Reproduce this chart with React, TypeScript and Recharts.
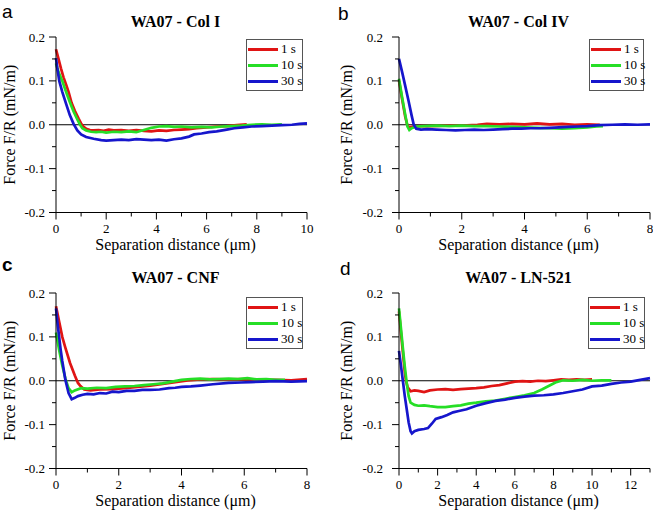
import { LineChart, Line, XAxis, YAxis, ReferenceLine, Legend } from "recharts";

const SERIF = "'Liberation Serif', 'Times New Roman', serif";
const SANS = "'Liberation Sans', Arial, sans-serif";
const COLORS = ["#e01414", "#26de26", "#1616cc"];
const SERIES = ["1 s", "10 s", "30 s"];

// y axis, shared by all four panels
const Y_TICKS = [-0.2, -0.15, -0.1, -0.05, 0, 0.05, 0.1, 0.15, 0.2];
const Y_MAJOR = [0.2, 0.1, 0, -0.1, -0.2];
const Y_LABELS = ["0.2", "0.1", "0.0", "-0.1", "-0.2"];

const X_TICKS_10 = [0, 1, 2, 3, 4, 5, 6, 7, 8, 9, 10];
const X_MAJOR_10 = [0, 2, 4, 6, 8, 10];
const X_TICKS_8 = [0, 1, 2, 3, 4, 5, 6, 7, 8];
const X_MAJOR_8 = [0, 2, 4, 6, 8];
const X_TICKS_13 = [0, 1, 2, 3, 4, 5, 6, 7, 8, 9, 10, 11, 12, 13];
const X_MAJOR_13 = [0, 2, 4, 6, 8, 10, 12];

// a - Col I
const COL1_1S = [[0,0.172],[0.1,0.15],[0.2,0.128],[0.3,0.108],[0.4,0.092],[0.5,0.075],[0.62,0.05],[0.75,0.032],[0.9,0.014],[1.0,0.003],[1.1,-0.005],[1.2,-0.009],[1.35,-0.012],[1.5,-0.013],[1.7,-0.012],[1.9,-0.014],[2.1,-0.011],[2.3,-0.013],[2.6,-0.012],[2.9,-0.014],[3.2,-0.012],[3.5,-0.014],[3.8,-0.015],[4.1,-0.013],[4.4,-0.014],[4.7,-0.012],[5.0,-0.011],[5.3,-0.01],[5.6,-0.008],[6.0,-0.006],[6.4,-0.004],[6.8,-0.003],[7.2,-0.001],[7.6,0.001]];
const COL1_10S = [[0,0.14],[0.1,0.12],[0.25,0.1],[0.4,0.075],[0.55,0.052],[0.7,0.03],[0.85,0.012],[0.96,0.0],[1.05,-0.008],[1.2,-0.013],[1.4,-0.016],[1.6,-0.017],[1.8,-0.016],[2.0,-0.018],[2.3,-0.016],[2.6,-0.017],[2.9,-0.015],[3.2,-0.017],[3.5,-0.012],[3.8,-0.007],[4.1,-0.004],[4.4,-0.003],[4.7,-0.005],[5.0,-0.004],[5.4,-0.006],[5.8,-0.005],[6.2,-0.006],[6.6,-0.004],[7.0,-0.003],[7.4,-0.002],[7.8,0.0],[8.2,0.001],[8.6,0.0],[9.0,0.001]];
const COL1_30S = [[0,0.152],[0.05,0.13],[0.13,0.1],[0.25,0.075],[0.4,0.048],[0.55,0.022],[0.7,0.002],[0.85,-0.013],[1.0,-0.022],[1.2,-0.028],[1.5,-0.032],[1.8,-0.035],[2.0,-0.036],[2.3,-0.035],[2.6,-0.034],[2.9,-0.035],[3.2,-0.033],[3.5,-0.034],[3.8,-0.035],[4.1,-0.034],[4.4,-0.036],[4.7,-0.033],[5.0,-0.031],[5.3,-0.027],[5.5,-0.022],[5.8,-0.02],[6.1,-0.017],[6.4,-0.015],[6.8,-0.011],[7.1,-0.008],[7.45,-0.006],[7.8,-0.004],[8.2,-0.003],[8.6,-0.002],[9.0,-0.001],[9.4,0.0],[9.7,0.002],[10,0.003]];

// b - Col IV
const COL4_1S = [[0,0.1],[0.1,0.058],[0.2,0.018],[0.27,-0.002],[0.33,-0.006],[0.45,-0.004],[0.7,-0.003],[1.0,-0.003],[1.5,-0.002],[2.0,-0.002],[2.5,0.0],[2.8,0.002],[3.2,0.001],[3.6,0.002],[4.0,0.001],[4.4,0.003],[4.8,0.001],[5.2,0.002],[5.6,0.0],[6.0,0.001],[6.4,0.0]];
const COL4_10S = [[0,0.105],[0.1,0.062],[0.2,0.022],[0.27,-0.004],[0.33,-0.012],[0.4,-0.008],[0.55,-0.004],[0.8,-0.003],[1.2,-0.002],[1.6,-0.003],[2.0,-0.002],[2.4,-0.003],[2.8,-0.003],[3.2,-0.004],[3.6,-0.005],[4.0,-0.006],[4.4,-0.007],[4.8,-0.008],[5.2,-0.009],[5.6,-0.008],[6.0,-0.006],[6.3,-0.004],[6.5,-0.003]];
const COL4_30S = [[0,0.15],[0.1,0.12],[0.2,0.088],[0.3,0.056],[0.4,0.022],[0.47,0.0],[0.55,-0.009],[0.7,-0.011],[0.9,-0.01],[1.2,-0.011],[1.5,-0.012],[1.8,-0.013],[2.1,-0.012],[2.4,-0.011],[2.7,-0.012],[3.0,-0.011],[3.3,-0.01],[3.6,-0.009],[3.9,-0.009],[4.2,-0.008],[4.5,-0.008],[4.8,-0.007],[5.1,-0.006],[5.4,-0.005],[5.7,-0.004],[6.0,-0.003],[6.4,-0.001],[6.8,0.0],[7.2,0.001],[7.6,0.0],[8.0,0.001]];

// c - CNF
const CNF_1S = [[0,0.17],[0.1,0.135],[0.2,0.1],[0.3,0.075],[0.45,0.04],[0.6,0.012],[0.7,-0.005],[0.78,-0.012],[0.9,-0.02],[1.1,-0.022],[1.4,-0.02],[1.8,-0.019],[2.2,-0.017],[2.6,-0.014],[3.0,-0.011],[3.4,-0.007],[3.8,-0.003],[4.2,0.001],[4.6,0.003],[5.0,0.004],[5.5,0.003],[6.0,0.004],[6.5,0.002],[7.0,0.002],[7.5,0.001],[8.0,0.004]];
const CNF_10S = [[0,0.11],[0.1,0.07],[0.2,0.035],[0.3,0.005],[0.4,-0.017],[0.5,-0.026],[0.6,-0.022],[0.8,-0.017],[1.0,-0.018],[1.3,-0.016],[1.6,-0.017],[1.9,-0.014],[2.2,-0.013],[2.5,-0.012],[2.8,-0.01],[3.1,-0.008],[3.4,-0.006],[3.7,-0.002],[4.0,0.002],[4.3,0.004],[4.6,0.005],[4.9,0.003],[5.2,0.004],[5.5,0.005],[5.8,0.004],[6.1,0.006],[6.4,0.003],[6.7,0.004],[7.0,0.002],[7.3,0.002]];
const CNF_30S = [[0,0.165],[0.05,0.13],[0.1,0.1],[0.15,0.07],[0.2,0.045],[0.3,0.002],[0.4,-0.028],[0.5,-0.042],[0.6,-0.039],[0.7,-0.035],[0.85,-0.032],[1.0,-0.03],[1.2,-0.031],[1.4,-0.028],[1.6,-0.029],[1.8,-0.025],[2.0,-0.026],[2.25,-0.023],[2.5,-0.023],[2.75,-0.021],[3.0,-0.021],[3.3,-0.02],[3.6,-0.017],[3.8,-0.016],[4.0,-0.014],[4.3,-0.013],[4.6,-0.011],[5.0,-0.008],[5.5,-0.005],[5.9,-0.004],[6.2,-0.003],[6.6,-0.002],[7.0,-0.001],[7.5,-0.002],[8.0,-0.001]];

// d - LN-521
const LN_1S = [[0,0.158],[0.1,0.11],[0.2,0.065],[0.3,0.02],[0.36,0.0],[0.45,-0.015],[0.6,-0.024],[0.8,-0.022],[1.0,-0.023],[1.3,-0.026],[1.6,-0.022],[2.0,-0.02],[2.4,-0.019],[2.8,-0.021],[3.2,-0.019],[3.6,-0.018],[4.0,-0.017],[4.4,-0.015],[4.8,-0.012],[5.2,-0.01],[5.6,-0.006],[6.0,-0.002],[6.4,-0.001],[6.8,-0.002],[7.2,0.0],[7.6,-0.001],[8.0,0.001],[8.4,0.003],[8.8,0.002],[9.2,0.003],[9.6,0.002],[10.0,0.003]];
const LN_10S = [[0,0.165],[0.1,0.12],[0.2,0.075],[0.3,0.032],[0.4,-0.005],[0.5,-0.035],[0.6,-0.05],[0.8,-0.055],[1.0,-0.057],[1.3,-0.056],[1.6,-0.058],[2.0,-0.06],[2.4,-0.06],[2.8,-0.058],[3.2,-0.056],[3.6,-0.052],[4.0,-0.05],[4.5,-0.047],[5.0,-0.045],[5.5,-0.041],[6.0,-0.037],[6.5,-0.033],[7.0,-0.028],[7.4,-0.02],[7.8,-0.011],[8.1,-0.004],[8.5,0.001],[9.0,0.0],[9.5,0.002],[10.0,0.0],[10.5,0.001],[11.0,0.001]];
const LN_30S = [[0,0.068],[0.1,0.035],[0.2,0.0],[0.3,-0.035],[0.4,-0.065],[0.5,-0.095],[0.6,-0.115],[0.67,-0.12],[0.8,-0.115],[1.0,-0.112],[1.3,-0.11],[1.5,-0.108],[1.7,-0.098],[1.9,-0.087],[2.2,-0.083],[2.5,-0.078],[2.8,-0.072],[3.1,-0.069],[3.5,-0.065],[4.0,-0.057],[4.5,-0.051],[5.0,-0.046],[5.5,-0.043],[6.0,-0.039],[6.5,-0.036],[7.0,-0.034],[7.5,-0.033],[8.0,-0.031],[8.5,-0.028],[9.0,-0.024],[9.5,-0.02],[10.0,-0.013],[10.5,-0.011],[11.0,-0.007],[11.5,-0.004],[12.0,-0.002],[12.5,0.002],[13.0,0.006]];

const toPts = (arr: number[][]) => arr.map(([x, y]) => ({ x, y }));

const panels = [
  { letter: "a", bold: false, title: "WA07 - Col I", left: 0, top: 0, width: 326, plotL: 56, plotR: 307, xMax: 10, xTicks: X_TICKS_10, xMajor: X_MAJOR_10, gap: 11, letterX: 2, letterY: 17.5, yLabelX: 14.5, legend: { left: 246, top: 39, width: 57 }, series: [COL1_1S, COL1_10S, COL1_30S] },
  { letter: "b", bold: false, title: "WA07 - Col IV", left: 326, top: 0, width: 329, plotL: 73, plotR: 324, xMax: 8, xTicks: X_TICKS_8, xMajor: X_MAJOR_8, gap: 16, letterX: 12, letterY: 20, yLabelX: 25.5, legend: { left: 263, top: 39, width: 55 }, series: [COL4_1S, COL4_10S, COL4_30S] },
  { letter: "c", bold: true, title: "WA07 - CNF", left: 0, top: 256, width: 326, plotL: 56, plotR: 307, xMax: 8, xTicks: X_TICKS_8, xMajor: X_MAJOR_8, gap: 11, letterX: 2, letterY: 15, yLabelX: 14.5, legend: { left: 246, top: 41, width: 57 }, series: [CNF_1S, CNF_10S, CNF_30S] },
  { letter: "d", bold: false, title: "WA07 - LN-521", left: 326, top: 256, width: 329, plotL: 73, plotR: 324, xMax: 13, xTicks: X_TICKS_13, xMajor: X_MAJOR_13, gap: 16, letterX: 14, letterY: 19, yLabelX: 25.5, legend: { left: 262, top: 41, width: 57 }, series: [LN_1S, LN_10S, LN_30S] },
];

const CH = 257;
const PLOT_TOP = 37;
const PLOT_BOTTOM = 212.5;

const YTick = ({ x, y, payload, gap }: any) => {
  const i = Y_MAJOR.indexOf(payload.value);
  return (
    <g>
      <line x1={x} x2={x - (i >= 0 ? 7 : 4)} y1={y} y2={y} stroke="#000" strokeWidth={1} />
      {i >= 0 && (
        <text x={x - gap} y={y + 4.5} textAnchor="end" fontSize={13} fontFamily={SERIF} fill="#000">
          {Y_LABELS[i]}
        </text>
      )}
    </g>
  );
};

const XTick = ({ x, y, payload, major }: any) => {
  const isMajor = major.includes(payload.value);
  return (
    <g>
      <line x1={x} x2={x} y1={y} y2={y + (isMajor ? 7 : 4)} stroke="#000" strokeWidth={1} />
      {isMajor && (
        <text x={x} y={y + 20} textAnchor="middle" fontSize={13} fontFamily={SERIF} fill="#000">
          {payload.value}
        </text>
      )}
    </g>
  );
};

function LegendBox({ width }: { width: number }) {
  return (
    <div style={{ width, boxSizing: "border-box", border: "1px solid #555", background: "#fff", padding: "1px 0 1px 1px" }}>
      {SERIES.map((s, i) => (
        <div key={s} style={{ display: "flex", alignItems: "center", height: 16, whiteSpace: "nowrap" }}>
          <div style={{ width: 30, height: 3, flexShrink: 0, background: COLORS[i], marginRight: 3 }} />
          <span style={{ fontFamily: SERIF, fontSize: 13, lineHeight: "16px", color: "#000", whiteSpace: "nowrap" }}>{s}</span>
        </div>
      ))}
    </div>
  );
}

export default function App() {
  return (
    <div style={{ position: "absolute", left: 0, top: 0, width: 653, height: 514, background: "#fff", overflow: "hidden" }}>
      {panels.map((p) => (
        <div key={p.letter} style={{ position: "absolute", left: p.left, top: p.top, width: p.width, height: CH }}>
          <LineChart
            width={p.width}
            height={CH}
            margin={{ top: PLOT_TOP, right: p.width - p.plotR, bottom: CH - PLOT_BOTTOM - 30, left: p.plotL - 40 }}
          >
            <XAxis
              type="number"
              dataKey="x"
              domain={[0, p.xMax]}
              ticks={p.xTicks}
              interval={0}
              height={30}
              tickSize={0}
              tickMargin={0}
              tickLine={false}
              axisLine={{ stroke: "#000", strokeWidth: 1 }}
              tick={(t: any) => <XTick {...t} major={p.xMajor} />}
            />
            <YAxis
              type="number"
              domain={[-0.2, 0.2]}
              ticks={Y_TICKS}
              interval={0}
              width={40}
              tickSize={0}
              tickMargin={0}
              tickLine={false}
              axisLine={{ stroke: "#000", strokeWidth: 1 }}
              tick={(t: any) => <YTick {...t} gap={p.gap} />}
            />
            <ReferenceLine y={0} stroke="#000" strokeWidth={1} />
            {p.series.map((s, i) => (
              <Line
                key={SERIES[i]}
                name={SERIES[i]}
                data={toPts(s)}
                dataKey="y"
                type="linear"
                stroke={COLORS[i]}
                strokeWidth={2.7}
                dot={false}
                isAnimationActive={false}
              />
            ))}
            <Legend
              layout="vertical"
              align="center"
              verticalAlign="middle"
              content={() => <LegendBox width={p.legend.width} />}
              wrapperStyle={{ left: p.legend.left, top: p.legend.top, width: p.legend.width }}
            />
          </LineChart>
        </div>
      ))}
      <svg width={653} height={514} style={{ position: "absolute", left: 0, top: 0, pointerEvents: "none" }}>
        {panels.map((p) => {
          const cx = p.left + (p.plotL + p.plotR) / 2 - 6;
          const cy = p.top + (PLOT_TOP + PLOT_BOTTOM) / 2;
          return (
            <g key={p.letter}>
              <text x={p.left + p.letterX} y={p.top + p.letterY} fontFamily={SANS} fontSize={19} fontWeight={p.bold ? 700 : 400} fill="#000">
                {p.letter}
              </text>
              <text x={cx} y={p.top + 27} textAnchor="middle" fontFamily={SERIF} fontSize={16} fontWeight={700} fill="#000">
                {p.title}
              </text>
              <text x={cx} y={p.top + PLOT_BOTTOM + 37.5} textAnchor="middle" fontFamily={SERIF} fontSize={16} fill="#000">
                Separation distance (μm)
              </text>
              <text
                transform={`translate(${p.left + p.yLabelX}, ${cy}) rotate(-90)`}
                textAnchor="middle"
                fontFamily={SERIF}
                fontSize={16}
                fill="#000"
              >
                Force F/R (mN/m)
              </text>
            </g>
          );
        })}
      </svg>
    </div>
  );
}
